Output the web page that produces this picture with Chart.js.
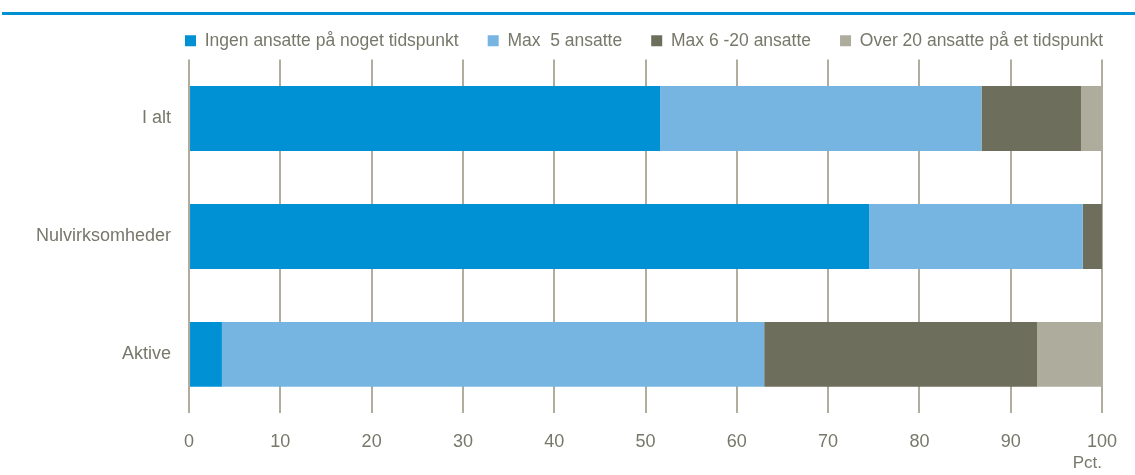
<!DOCTYPE html>
<html>
<head>
<meta charset="utf-8">
<script src="https://cdn.jsdelivr.net/npm/chart.js@4"></script>
<style>
  html, body { margin: 0; padding: 0; background: #fff; }
  #topline { position: absolute; left: 2px; right: 0; top: 12px; height: 3px; background: #0090d4; }
  #wrap { position: absolute; left: 0; top: 0; width: 1135px; height: 475px; }
</style>
</head>
<body>
<div id="wrap"><canvas id="myChart" width="1135" height="475"></canvas></div>
<div id="topline"></div>
<script>
const categories = ['I alt', 'Nulvirksomheder', 'Aktive']
const seriesNames = ['Ingen ansatte på noget tidspunkt', 'Max  5 ansatte', 'Max 6 -20 ansatte', 'Over 20 ansatte på et tidspunkt']
const ingen = [51.6, 74.5, 3.6]
const max5 = [35.2, 23.4, 59.4]
const max6til20 = [10.9, 2.1, 29.9]
const over20 = [2.3, 0, 7.1]
const xTicks = [0, 10, 20, 30, 40, 50, 60, 70, 80, 90, 100]
const unitLabel = 'Pct.'

const colors = ['#0090d4', '#76b4e2', '#6e6e5c', '#aeac9d']
const textColor = '#77776a'
const fontFamily = '"Liberation Sans", Arial, sans-serif'
const legendPadding = 29

const values = [ingen, max5, max6til20, over20]

// shift legend to end flush with the plot area, and write the unit under the axis
const extras = {
    id: 'extras',
    afterLayout(chart) {
        chart.legend.left += legendPadding
        chart.legend.right += legendPadding
    },
    afterDraw(chart) {
        const c = chart.ctx
        const area = chart.chartArea
        c.save()
        c.fillStyle = textColor
        c.font = '17px ' + fontFamily
        c.textAlign = 'right'
        c.textBaseline = 'middle'
        c.fillText(unitLabel, area.right, area.bottom + 50)
        c.restore()
    }
}

const ctx = document.getElementById('myChart')

new Chart(ctx, {
    type: 'bar',
    data: {
        labels: categories,
        datasets: seriesNames.map((name, i) => ({
            label: name,
            data: values[i],
            backgroundColor: colors[i],
            borderWidth: 0,
            categoryPercentage: 1,
            barPercentage: 0.55
        }))
    },
    plugins: [extras],
    options: {
        indexAxis: 'y',
        responsive: false,
        animation: false,
        layout: { padding: { left: 18, right: 32, top: 3, bottom: 4 } },
        plugins: {
            tooltip: { enabled: false },
            legend: {
                align: 'end',
                labels: {
                    color: textColor,
                    boxWidth: 11,
                    boxHeight: 11,
                    padding: legendPadding,
                    font: { family: fontFamily, size: 17.5 }
                }
            }
        },
        scales: {
            x: {
                stacked: true,
                min: 0,
                max: 100,
                afterBuildTicks: axis => { axis.ticks = xTicks.map(v => ({ value: v })) },
                grid: { color: '#b0ad9f', lineWidth: 2, drawTicks: false },
                border: { display: false },
                ticks: { color: textColor, padding: 18, font: { family: fontFamily, size: 18 } }
            },
            y: {
                stacked: true,
                grid: { display: false, drawTicks: false },
                border: { display: false },
                ticks: { color: textColor, padding: 18, font: { family: fontFamily, size: 18 } }
            }
        }
    }
});
</script>
</body>
</html>
